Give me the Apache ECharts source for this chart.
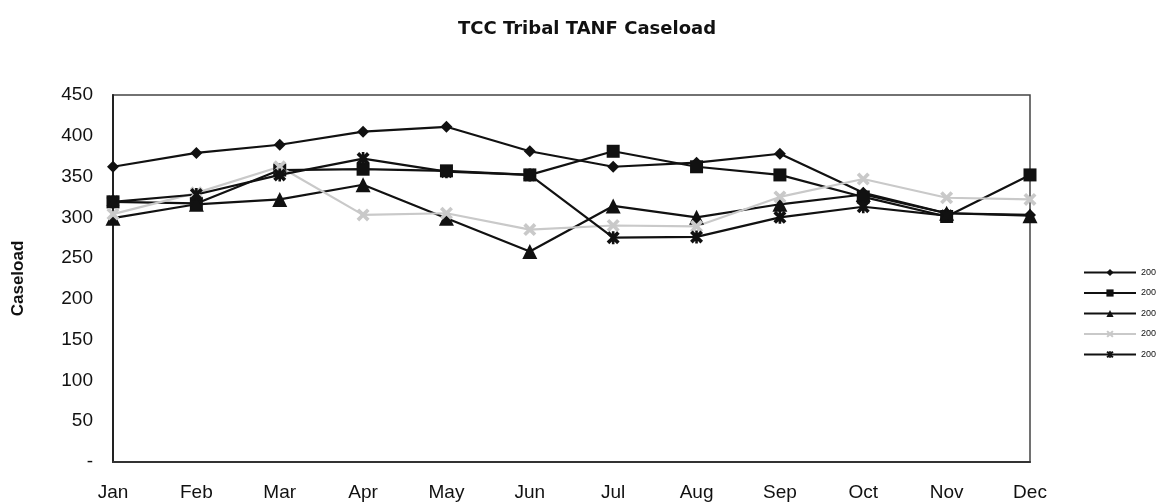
<!DOCTYPE html>
<html>
<head>
<meta charset="utf-8">
<script src="https://cdn.jsdelivr.net/npm/echarts@6/dist/echarts.min.js"></script>
<style>
  html, body { margin: 0; padding: 0; background: #fff; }
  #main { width: 1156px; height: 502px; }
</style>
</head>
<body>
<div id="main"></div>
<script>
  // data
  var months = ['Jan', 'Feb', 'Mar', 'Apr', 'May', 'Jun', 'Jul', 'Aug', 'Sep', 'Oct', 'Nov', 'Dec'];
  var y2000 = [362, 379, 389, 405, 411, 381, 362, 367, 378, 330, 305, 303];
  var y2001 = [319, 317, 358, 359, 357, 352, 381, 362, 352, 325, 301, 352];
  var y2002 = [299, 316, 322, 340, 299, 258, 314, 300, 316, 328, 305, 302];
  var y2003 = [304, 330, 362, 303, 305, 285, 290, 289, 325, 347, 324, 322];
  var y2004 = [319, 328, 352, 372, 356, 352, 275, 276, 300, 313, 302, null];
  var years = ['2000', '2001', '2002', '2003', '2004'];

  var xShape = 'path://M0,2 L2,0 L5,3 L8,0 L10,2 L7,5 L10,8 L8,10 L5,7 L2,10 L0,8 L3,5 Z';
  var starShape = 'path://M0,2 L2,0 L5,3 L8,0 L10,2 L7,5 L10,8 L8,10 L5,7 L2,10 L0,8 L3,5 Z M4,0 L6,0 L6,10 L4,10 Z';

  function line(name, data, symbol, size, color) {
    return {
      name: name,
      type: 'line',
      data: data,
      symbol: symbol,
      symbolSize: size,
      lineStyle: { color: color, width: 2.2 },
      itemStyle: { color: color },
      emphasis: { disabled: true }
    };
  }

  var chart = echarts.init(document.getElementById('main'));
  chart.setOption({
    animation: false,
    textStyle: { fontFamily: 'Liberation Sans, Arial, sans-serif' },
    title: {
      text: 'TCC Tribal TANF Caseload',
      left: 582,
      textAlign: 'center',
      top: 15,
      textStyle: { fontSize: 18, fontWeight: 'bold', color: '#111', fontFamily: 'DejaVu Sans' }
    },
    legend: {
      orient: 'vertical',
      left: 1078,
      top: 263,
      itemGap: 11.5,
      itemWidth: 52,
      itemHeight: 9,
      textStyle: { fontSize: 9, color: '#111' },
      data: years
    },
    grid: {
      left: 113, right: 126, top: 95, bottom: 40,
      show: true, borderColor: '#444', borderWidth: 1.5
    },
    xAxis: {
      type: 'category',
      data: months,
      boundaryGap: false,
      axisLine: { lineStyle: { color: '#333', width: 2 } },
      axisTick: { show: false },
      axisLabel: { color: '#111', fontSize: 19, margin: 21 }
    },
    yAxis: {
      type: 'value',
      min: 0, max: 450, interval: 50,
      name: 'Caseload',
      nameLocation: 'middle',
      nameGap: 86,
      nameTextStyle: { fontSize: 17, fontWeight: 'bold', color: '#111' },
      axisLine: { show: true, lineStyle: { color: '#222', width: 2 } },
      axisTick: { show: false },
      splitLine: { show: false },
      axisLabel: {
        color: '#111', fontSize: 19, margin: 20,
        formatter: function (v) { return v === 0 ? '-' : v; }
      }
    },
    series: [
      line('2000', y2000, 'diamond', 12, '#111'),
      line('2001', y2001, 'rect', 13, '#111'),
      line('2002', y2002, 'triangle', 15, '#111'),
      line('2003', y2003, xShape, 13, '#c9c9c9'),
      line('2004', y2004, starShape, 13, '#111')
    ]
  });
</script>
</body>
</html>
